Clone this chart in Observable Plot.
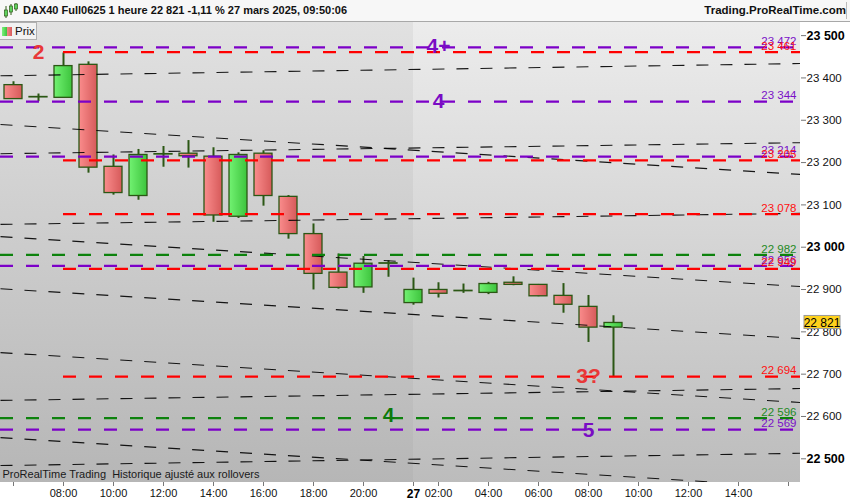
<!DOCTYPE html>
<html><head><meta charset="utf-8">
<script src="https://cdn.jsdelivr.net/npm/d3@7"></script>
<script src="https://cdn.jsdelivr.net/npm/@observablehq/plot@0.6"></script>
<style>
body{margin:0;background:#fff;font-family:"Liberation Sans",Arial,sans-serif;}
#wrap{position:relative;width:850px;height:500px;overflow:hidden;}
#hdr{height:21px;border-bottom:1px solid #a8a8a8;background:#f7f7f7;position:relative;}
#hdr .t{position:absolute;left:23px;top:4px;font-size:11px;font-weight:bold;color:#111;white-space:nowrap;}
#hdr .r{position:absolute;right:4px;top:4px;font-size:11.5px;font-weight:bold;color:#111;white-space:nowrap;}
#hdr .sep{position:absolute;left:846px;top:2px;width:1px;height:17px;background:#bbb;}
#hdr svg{position:absolute;left:3px;top:3px;}
#legend{position:absolute;left:0;top:22px;width:36px;height:16px;background:#f2f2f2;border:1px solid #b0b0b0;border-left:none;font-size:11.5px;color:#111;}
#legend .g{position:absolute;left:2px;top:4px;width:5px;height:9px;background:linear-gradient(90deg,#7df27d,#3cc23c);}
#legend .rd{position:absolute;left:7px;top:4px;width:5px;height:9px;background:linear-gradient(90deg,#f38a8a,#d95c5c);}
#legend .p{position:absolute;left:15px;top:2px;}
</style></head><body>
<div id="wrap">
  <div id="hdr">
    <svg width="16" height="16" viewBox="0 0 16 16">
      <line x1="3" y1="3" x2="3" y2="15" stroke="#2e5a17" stroke-width="1"/>
      <rect x="1.5" y="7" width="3" height="6" fill="#5fd35f" stroke="#2e5a17" stroke-width="0.7"/>
      <line x1="8" y1="1" x2="8" y2="12" stroke="#2e5a17" stroke-width="1"/>
      <rect x="6.5" y="3" width="3" height="6" fill="#5fd35f" stroke="#2e5a17" stroke-width="0.7"/>
      <line x1="13" y1="0" x2="13" y2="8" stroke="#2e5a17" stroke-width="1"/>
      <rect x="11.5" y="1" width="3" height="5" fill="#5fd35f" stroke="#2e5a17" stroke-width="0.7"/>
    </svg>
    <span class="t">DAX40 Full0625 1 heure 22 821 -1,11 % 27 mars 2025, 09:50:06</span>
    <span class="r">Trading.ProRealTime.com</span>
    <div class="sep"></div>
  </div>
  <div id="chart"></div>
  <div id="legend"><div class="g"></div><div class="rd"></div><span class="p">Prix</span></div>
</div>
<script>
// ---- candle data (hourly bars) ----
const times  = ["06:00","07:00","08:00","09:00","10:00","11:00","12:00","13:00","14:00","15:00","16:00","17:00","18:00","19:00","20:00","21:00",
                "01:00","02:00","03:00","04:00","05:00","06:00","07:00","08:00","09:00"];
const days   = [26,26,26,26,26,26,26,26,26,26,26,26,26,26,26,26, 27,27,27,27,27,27,27,27,27];
const opens  = [23383,23354,23353,23431,23190,23121,23219,23221,23214,23072,23221,23119,23031,22940,22905,22961, 22868,22899,22896,22892,22916,22911,22885,22859,22810];
const highs  = [23391,23362,23459,23438,23218,23231,23238,23252,23235,23223,23228,23122,23055,22984,22978,22968, 22927,22916,22913,22917,22930,22912,22914,22886,22838];
const lows   = [23350,23344,23353,23175,23123,23111,23189,23187,23059,23068,23097,23019,22899,22901,22891,22929, 22863,22880,22891,22888,22909,22883,22844,22775,22694];
const closes = [23350,23355,23428,23188,23128,23218,23220,23215,23075,23218,23121,23031,22937,22904,22961,22962, 22899,22890,22897,22913,22911,22884,22864,22810,22821];

// ---- horizontal levels ----
const levelValues = [23472,23461,23344,23214,23205,23078,22982,22956,22949,22694,22596,22569];
const levelKinds  = ["purple","red","purple","purple","red","red","green","purple","red","red","green","purple"];
const levelFromBar = [null,2,null,null,2,2,null,null,2,2,null,null];

// ---- trend lines (price at left edge, price at right edge) ----
const trendStarts = [23405,23290,23221,23054,23025,22902,22751,22638,22550,22484];
const trendEnds   = [23434,23172,23247,23080,22907,22784,22633,22666,22432,22513];

// ---- wave annotations ----
const noteTexts  = ["2","4+","4","3?","4","5"];
const noteBars   = [1,17,17,23,15,23];
const noteValues = [23460,23476,23346,22694,22604,22567];
const noteKinds  = ["red","purple","purple","red","green","purple"];

// ---- axis ticks ----
const xTickBars   = [0,2,4,6,8,10,12,14,16,17,19,21,23,25,27,29,31];
const xTickLabels = ["","08:00","10:00","12:00","14:00","16:00","18:00","20:00","27","02:00","04:00","06:00","08:00","10:00","12:00","14:00",""];
const xBoldLabels = ["27"];
const yTickValues = [22500,22600,22700,22800,22900,23000,23100,23200,23300,23400,23500];
const yBoldValues = [22500,23000,23500];

const colors = {purple:"#7c00c8", red:"#ff0000", green:"#0d820d"};
const textColors = {purple:"#7a10c8", red:"#ff1010", green:"#1f8a1f"};
const noteColors = {purple:"#7a0cc4", red:"#e83838", green:"#0b7a0b"};

const xMin = -0.52, xMax = 31.48, yMin = 22444, yMax = 23531;

const bars = times.map((t,i)=>({i, t, day:days[i], o:opens[i], h:highs[i], l:lows[i], c:closes[i]}));
const levels = levelValues.map((v,k)=>({v, kind:levelKinds[k], from: levelFromBar[k] ?? xMin}));
const trends = trendStarts.map((s,k)=>({s, e:trendEnds[k]}));
const notes = noteTexts.map((t,k)=>({t, i:noteBars[k], v:noteValues[k], kind:noteKinds[k]}));
const dayBreak = bars.findIndex(b=>b.day===27);
const fmt = d => d3.format(",")(d).replace(/,/g," ");
const labelOf = new Map(xTickBars.map((b,k)=>[b,xTickLabels[k]]));
const xNormal = xTickBars.filter(b=>!xBoldLabels.includes(labelOf.get(b)));
const xBold = xTickBars.filter(b=>xBoldLabels.includes(labelOf.get(b)));
const yNormal = yTickValues.filter(v=>!yBoldValues.includes(v));

const half = 0.36;
const chart = Plot.plot({
  width: 850, height: 478,
  marginLeft: 0, marginRight: 50, marginTop: 0, marginBottom: 18,
  x: {domain:[xMin,xMax], axis:null},
  y: {domain:[yMin,yMax], axis:null},
  style: {fontFamily:"'Liberation Sans', Arial, sans-serif", fontSize:"11px", background:"#fff", color:"#111", overflow:"visible"},
  marks: [
    Plot.rect([{a:xMin,b:dayBreak}], {x1:"a", x2:"b", fill:"url(#bgA)"}),
    Plot.rect([{a:dayBreak,b:xMax}], {x1:"a", x2:"b", fill:"url(#bgB)"}),
    Plot.ruleX(bars, {x:"i", y1:"l", y2:"h", stroke:"#2b5714", strokeWidth:2}),
    Plot.rect(bars.filter(d=>d.c<d.o), {x1:d=>d.i-half, x2:d=>d.i+half, y1:"o", y2:"c", fill:"url(#candR)", stroke:"#2b5714", strokeWidth:1.3}),
    Plot.rect(bars.filter(d=>d.c>=d.o), {x1:d=>d.i-half, x2:d=>d.i+half, y1:"o", y2:"c", fill:"url(#candG)", stroke:"#2b5714", strokeWidth:1.3}),
    Plot.link(trends, {x1:()=>xMin, x2:()=>xMax, y1:"s", y2:"e", stroke:"#000", strokeOpacity:0.9, strokeWidth:1.1, strokeDasharray:"12,12", clip:true}),
    ...["purple","red","green"].map(k => Plot.ruleY(levels.filter(d=>d.kind===k), {y:"v", x1:"from", x2:()=>xMax, stroke:colors[k], strokeWidth:2.2, strokeDasharray:"13,13"})),
    ...["purple","red","green"].map(k => Plot.text(levels.filter(d=>d.kind===k), {x:()=>xMax, y:"v", text:d=>fmt(d.v), textAnchor:"end", dx:-4, dy:-6, fill:textColors[k], fontSize:11.5})),
    ...["purple","red","green"].map(k => Plot.text(notes.filter(d=>d.kind===k), {x:"i", y:"v", text:"t", fill:noteColors[k], fontSize:21, fontWeight:"bold"})),
    Plot.text(["ProRealTime Trading  Historique ajusté aux rollovers"], {frameAnchor:"bottom-left", dx:2, dy:-5, fill:"#1a1a1a", fontSize:11}),
    Plot.axisY(yNormal, {anchor:"right", tickSize:5, tickPadding:1, tickFormat:fmt, stroke:"#777", fill:"#111", fontSize:11.5}),
    Plot.axisY(yBoldValues, {anchor:"right", tickSize:5, tickPadding:1, tickFormat:fmt, stroke:"#777", fill:"#000", fontSize:12.5, fontWeight:"bold"}),
    Plot.axisX(xNormal, {anchor:"bottom", tickSize:4, tickPadding:3, tickFormat:b=>labelOf.get(b), stroke:"#777", fill:"#111", fontSize:11}),
    Plot.axisX(xBold, {anchor:"bottom", tickSize:4, tickPadding:3, tickFormat:b=>labelOf.get(b), stroke:"#777", fill:"#000", fontSize:12, fontWeight:"bold"})
  ]
});

const svg = d3.select(chart);
const defs = svg.insert("defs", ":first-child");
function grad(id, x2, y2, stops){
  const g = defs.append("linearGradient").attr("id",id).attr("x1",0).attr("y1",0).attr("x2",x2).attr("y2",y2);
  stops.forEach(([o,c])=>g.append("stop").attr("offset",o).attr("stop-color",c));
}
grad("bgA",0,1,[[0,"#e1e1e1"],[1,"#b6b6b6"]]);
grad("bgB",0,1,[[0,"#ececec"],[1,"#bcbcbc"]]);
grad("candR",1,0,[[0,"#fa8c8c"],[1,"#d65a5a"]]);
grad("candG",1,0,[[0,"#72f272"],[1,"#3dc43d"]]);

// last price tag on right axis
const ys = chart.scale("y"), xs = chart.scale("x");
const last = bars[bars.length-1];
const py = ys.apply(last.c), px = xs.apply(xMax);
svg.append("rect").attr("x",px+4).attr("y",py-7).attr("width",36).attr("height",13)
   .attr("fill","#ffd21c").attr("stroke","#9a9a9a").attr("stroke-width",1);
svg.append("text").attr("x",px+22).attr("y",py).attr("dy","0.35em").attr("text-anchor","middle")
   .attr("font-size",12).attr("fill","#000").text(fmt(last.c));

document.getElementById("chart").appendChild(chart);
</script>
</body></html>
